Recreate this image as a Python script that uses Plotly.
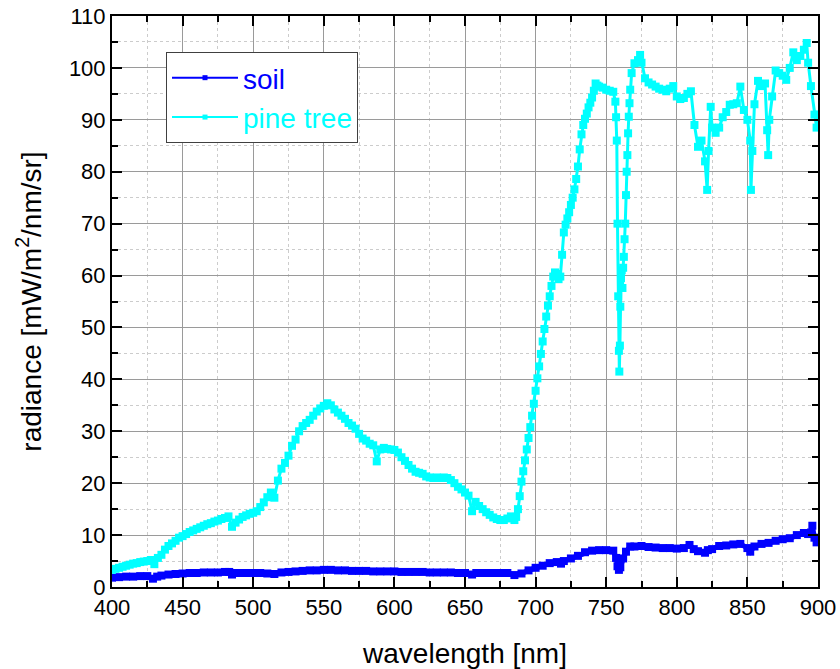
import plotly.graph_objects as go

# Radiance spectra of two targets, wavelength in nm, radiance in mW/m^2/nm/sr

wl_soil = [
    400, 405, 410, 415, 420, 425, 429, 432, 435, 440, 445, 450, 455, 460, 465,
    470, 475, 480, 483, 485, 488, 490, 495, 500, 505, 510, 515, 520, 525, 530,
    535, 540, 545, 550, 555, 560, 565, 570, 575, 580, 585, 590, 595, 600, 605,
    610, 615, 620, 625, 630, 635, 640, 645, 650, 655, 658, 660, 665, 670, 675,
    680, 685, 690, 695, 700, 705, 710, 715, 718, 720, 725, 730, 735, 740, 745,
    750, 755, 757, 758, 759, 760, 762, 764, 767, 770, 775, 780, 785, 790, 795,
    800, 805, 809, 812, 815, 820, 822, 825, 830, 835, 840, 845, 850, 852, 855,
    860, 865, 870, 875, 880, 885, 890, 893, 895, 896, 897.5, 899, 900,
]
soil = [
    1.8, 1.9, 2.0, 2.0, 2.1, 2.1, 1.6, 2.0, 2.2, 2.4, 2.5, 2.6, 2.7, 2.7, 2.8,
    2.8, 2.8, 2.9, 2.9, 2.4, 2.7, 2.7, 2.7, 2.7, 2.7, 2.6, 2.5, 2.8, 2.9, 3.0,
    3.1, 3.2, 3.2, 3.3, 3.3, 3.2, 3.2, 3.1, 3.1, 3.1, 3.0, 3.0, 3.0, 3.0, 2.9,
    2.9, 2.9, 2.9, 2.8, 2.8, 2.8, 2.8, 2.7, 2.7, 2.4, 2.7, 2.7, 2.7, 2.7, 2.7,
    2.7, 2.3, 2.6, 3.2, 3.7, 4.1, 4.6, 4.8, 4.5, 5.0, 5.5, 6.0, 6.7, 7.0, 7.1,
    7.1, 7.0, 5.6, 4.0, 3.3, 3.8, 5.5, 6.8, 7.8, 7.8, 7.9, 7.7, 7.6, 7.5, 7.5,
    7.4, 7.5, 8.1, 7.3, 6.9, 6.6, 7.1, 7.3, 7.9, 8.0, 8.2, 8.3, 7.5, 6.8, 7.8,
    8.3, 8.5, 8.9, 9.2, 9.4, 10.0, 10.4, 10.2, 10.5, 11.8, 9.5, 8.6, 9.3,
]

wl_pine = [
    400, 402.5, 405, 407.5, 410, 412.5, 415, 417.5, 420, 422.5, 425, 427.5,
    430, 432.5, 435, 437.5, 440, 442.5, 445, 447.5, 450, 452.5, 455, 457.5,
    460, 462.5, 465, 467.5, 470, 472.5, 475, 477.5, 480, 482.5, 485, 487.5,
    490, 492.5, 495, 497.5, 500, 502.5, 505, 507.5, 510, 512.5, 515, 517.5,
    520, 522.5, 525, 527.5, 530, 532.5, 535, 537.5, 540, 542.5, 545, 547.5,
    550, 552.5, 555, 557.5, 560, 562.5, 565, 567.5, 570, 572.5, 575, 577.5,
    580, 582.5, 585, 587.5, 590, 592.5, 595, 597.5, 600, 602.5, 605, 607.5,
    610, 612.5, 615, 617.5, 620, 622.5, 625, 627.5, 630, 632.5, 635, 637.5,
    640, 642.5, 645, 647.5, 650, 652.5, 655, 657.5, 660, 662.5, 665, 667.5,
    670, 672.5, 675, 677.5, 680, 682.5,
    685, 686.25, 687.5, 688.75, 690, 691.25, 692.5, 693.75, 695, 696.25,
    697.5, 698.75, 700, 701.25, 702.5, 703.75, 705, 706.25, 707.5, 708.75,
    710, 711.25, 712.5, 713.75, 715, 716.25, 717.5, 718.75, 720, 721.25,
    722.5, 723.75, 725, 726.25, 727.5, 728.75, 730, 731.25, 732.5, 733.75,
    735, 736.25, 737.5, 738.75, 740, 741.25, 742.5, 743.75, 745,
    747.5, 750, 752.5, 755, 756.5,
    757, 757.5, 758, 758.5, 759, 759.3, 759.7, 760, 760.5, 761, 761.5, 762,
    762.5, 763, 763.5, 764, 764.5, 765, 765.5, 766, 766.5, 767, 768, 770,
    772.5, 774, 775, 777.5, 780, 782.5, 785, 787.5, 790, 792.5, 795, 797.5,
    800, 802.5, 805, 807.5, 810, 812.5, 815, 817.5, 820, 821.5, 822.5, 824,
    825, 827.5, 830, 832.5, 835, 837.5, 840, 842.5, 845, 847.5, 850, 852,
    852.5, 853.5, 855, 857.5, 860, 862.5, 864, 864.7, 865.5, 867.5, 870, 872.5,
    875, 877.5, 880, 882.5, 885, 887.5, 890, 892, 893, 895, 897.5, 899, 900,
]
pine = [
    3.3, 3.5, 3.7, 3.9, 4.1, 4.3, 4.5, 4.6, 4.8, 4.9, 5.0, 5.2,
    4.4, 5.6, 6.2, 7.2, 7.9, 8.4, 8.9, 9.5, 9.8, 10.2, 10.6, 10.9,
    11.2, 11.5, 11.8, 12.1, 12.3, 12.6, 12.8, 13.1, 13.3, 13.6, 11.6, 12.4,
    13.0, 13.5, 13.8, 14.1, 14.3, 14.6, 15.4, 16.3, 17.3, 18.2, 17.2, 20.5,
    22.8, 23.9, 25.3, 27.2, 28.4, 30.0, 31.0, 31.6, 32.2, 33.0, 33.8, 34.4,
    34.9, 35.4, 35.0, 34.2, 33.6, 33.0, 32.4, 31.6, 31.1, 30.5, 29.5, 28.6,
    28.2, 27.6, 27.3, 24.2, 26.5, 26.8, 26.6, 26.5, 26.4, 25.9, 25.0, 24.3,
    23.5, 22.8, 22.2, 22.0, 21.8, 21.3, 21.1, 21.0, 21.1, 21.0, 21.1, 21.0,
    20.6, 20.0, 19.3, 18.8, 18.2, 17.6, 14.6, 16.4, 15.6, 15.0, 14.4, 13.9,
    13.4, 13.1, 12.9, 12.9, 13.2, 13.6,
    12.9, 13.5, 15.0, 17.5, 20.3, 22.3, 24.4, 26.5, 28.7, 30.8,
    33.0, 35.3, 37.8, 40.2, 42.5, 44.9, 47.3, 49.7, 52.1, 54.2,
    56.0, 58.0, 59.8, 60.6, 60.3, 59.3, 59.8, 64.0, 68.3, 69.8,
    71.0, 72.2, 73.6, 75.0, 76.6, 78.6, 81.0, 84.3, 87.2, 89.0,
    90.2, 91.2, 92.4, 93.3, 94.3, 95.6, 97.0, 96.6, 96.4,
    96.2, 95.8, 95.6, 95.4, 93.5,
    90.5, 86.0, 70.0, 56.0, 45.5, 41.5, 46.5, 54.0, 59.5, 61.0, 57.6, 61.5,
    63.6, 67.0, 70.0, 75.5, 80.0, 83.2, 87.4, 90.6, 93.2, 95.8, 99.0, 100.9,
    101.5, 102.5, 101.0, 98.0, 97.2, 96.8, 96.4, 96.0, 95.8, 95.5, 96.0, 96.5,
    94.5, 94.0, 94.2, 95.0, 95.5, 89.0, 84.8, 86.0, 82.0, 76.5, 84.0, 92.5,
    88.5, 87.5, 88.5, 90.5, 91.5, 92.9, 93.0, 93.2, 96.4, 91.9, 90.0, 86.0,
    76.5, 84.0, 93.0, 97.5, 96.5, 97.0, 88.0, 83.2, 90.0, 94.5, 99.5, 99.0,
    98.5, 97.7, 100.0, 103.0, 101.5, 102.3, 103.5, 104.8, 101.0, 96.5, 91.0, 88.5, 91.0,
]
assert len(wl_soil) == len(soil) and len(wl_pine) == len(pine)

SOIL_COLOR = "#0000FF"
PINE_COLOR = "#00FFFF"
FONT = "Arial, Liberation Sans, Helvetica, sans-serif"

fig = go.Figure()

# spectra: dense square markers joined by a line
fig.add_trace(go.Scatter(
    x=wl_soil, y=soil, mode="lines+markers", showlegend=False,
    line=dict(color=SOIL_COLOR, width=5),
    marker=dict(symbol="square", size=8, color=SOIL_COLOR),
))
fig.add_trace(go.Scatter(
    x=wl_pine, y=pine, mode="lines+markers", showlegend=False,
    line=dict(color=PINE_COLOR, width=3),
    marker=dict(symbol="square", size=8, color=PINE_COLOR),
))

# legend entries with a thin line and a small marker
fig.add_trace(go.Scatter(
    x=[None], y=[None], mode="lines+markers",
    name=f'<span style="color:{SOIL_COLOR}">soil</span>',
    line=dict(color=SOIL_COLOR, width=2),
    marker=dict(symbol="square", size=5, color=SOIL_COLOR),
))
fig.add_trace(go.Scatter(
    x=[None], y=[None], mode="lines+markers",
    name=f'<span style="color:{PINE_COLOR}">pine tree</span>',
    line=dict(color=PINE_COLOR, width=2),
    marker=dict(symbol="square", size=5, color=PINE_COLOR),
))

axis_common = dict(
    showline=True, linewidth=2, linecolor="black", mirror="allticks",
    ticks="inside", ticklen=10, tickwidth=2, tickcolor="black",
    showgrid=True, gridcolor="#9a9a9a", gridwidth=1,
    zeroline=False, automargin=False,
    tickfont=dict(family=FONT, size=22, color="black"),
)
minor_common = dict(ticks="inside", ticklen=6, tickwidth=2, tickcolor="black",
                    showgrid=True, gridcolor="#cccccc", griddash="3px,3px", gridwidth=1)

fig.update_xaxes(
    range=[400, 900], tick0=400, dtick=50,
    minor=dict(dtick=25, **minor_common),
    title=dict(text="wavelength [nm]", font=dict(family=FONT, size=28, color="black"),
               standoff=31),
    **axis_common,
)
fig.update_yaxes(
    range=[0, 110], tick0=0, dtick=10,
    minor=dict(dtick=5, **minor_common),
    title=dict(text="radiance [mW/m<sup>2</sup>/nm/sr]",
               font=dict(family=FONT, size=28, color="black"), standoff=19),
    **axis_common,
)

fig.update_layout(
    width=840, height=669,
    margin=dict(l=112, r=22, t=16, b=82),
    plot_bgcolor="white", paper_bgcolor="white",
    font=dict(family=FONT, color="black"),
    legend=dict(
        x=0.0765, y=0.937, xanchor="left", yanchor="top",
        bgcolor="white", bordercolor="#404040", borderwidth=1,
        font=dict(family=FONT, size=28),
        itemwidth=66,
    ),
)

fig.write_html("out.html")
